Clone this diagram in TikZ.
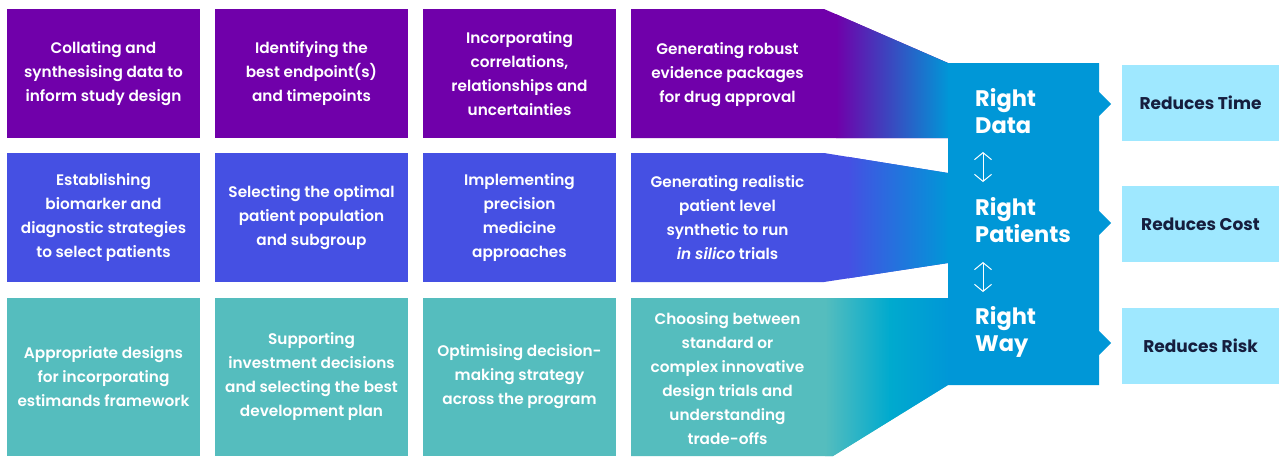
\documentclass[tikz,border=0pt]{standalone}
\usepackage{fontspec}
\setmainfont{Poppins}[UprightFont=* SemiBold, BoldFont=* Bold, ItalicFont=* SemiBold Italic]
\newfontfamily\hubfont{Poppins}[UprightFont=* Bold]
\usetikzlibrary{arrows.meta}
\definecolor{rowpurple}{RGB}{112,0,170}
\definecolor{rowviolet}{RGB}{69,80,227}
\definecolor{rowteal}{RGB}{85,189,190}
\definecolor{hubblue}{RGB}{0,151,215}
\definecolor{midcyan}{RGB}{0,170,206}
\definecolor{outcyan}{RGB}{159,232,255}
\definecolor{navy}{RGB}{22,30,62}
\begin{document}
\begin{tikzpicture}[x=1pt,y=-1pt,
  cell/.style={text=white, align=center, inner sep=0pt, minimum width=193pt,
    font=\fontsize{15.3}{24}\selectfont},
  shortcell/.style={cell, minimum height=129pt},
  tallcell/.style={cell, minimum height=158pt},
  celltext/.style={text=white, align=center, inner sep=0pt,
    font=\fontsize{15.3}{24}\selectfont},
  hubtext/.style={text=white, align=left, anchor=west, inner sep=0pt,
    font=\fontsize{22.5}{27}\selectfont\hubfont},
  outcome/.style={fill=outcyan, text=navy, inner sep=0pt, minimum width=157pt,
    minimum height=76pt, font=\fontsize{17}{20}\selectfont\bfseries},
  updown/.style={white, line width=1pt, {Straight Barb[length=7pt,width=17pt]}-{Straight Barb[length=7pt,width=17pt]}}]
\useasboundingbox (0,0) rectangle (1279,456);

% first three columns
\node[shortcell, fill=rowpurple] (a1) at (103.5,73.5) {Collating and\\synthesising data to\\inform study design};
\node[shortcell, fill=rowpurple] (a2) at (311.5,73.5) {Identifying the\\best endpoint(s)\\and timepoints};
\node[shortcell, fill=rowpurple] (a3) at (519.5,73.5) {Incorporating\\correlations,\\relationships and\\uncertainties};

\node[shortcell, fill=rowviolet] (b1) at (103.5,217.5) {Establishing\\biomarker and\\diagnostic strategies\\to select patients};
\node[shortcell, fill=rowviolet] (b2) at (311.5,217.5) {Selecting the optimal\\patient population\\and subgroup};
\node[shortcell, fill=rowviolet] (b3) at (519.5,217.5) {Implementing\\precision\\medicine\\approaches};

\node[tallcell, fill=rowteal] (c1) at (103.5,377) {Appropriate designs\\for incorporating\\estimands framework};
\node[tallcell, fill=rowteal] (c2) at (311.5,377) {Supporting\\investment decisions\\and selecting the best\\development plan};
\node[tallcell, fill=rowteal] (c3) at (519.5,377) {Optimising decision-\\making strategy\\across the program};

% fourth column: funnels that blend into the hub
\fill[rowpurple] (631,9) -- (824,9) -- (948,63) -- (948,138) -- (631,138) -- cycle;
\begin{scope}
  \clip (631,9) -- (824,9) -- (948,63) -- (948,138) -- (631,138) -- cycle;
  \shade[left color=rowpurple, right color=hubblue] (836,0) rectangle (949,150);
\end{scope}

\fill[rowviolet] (631,153) -- (824,153) -- (948,173) -- (948,263) -- (824,282) -- (631,282) -- cycle;
\begin{scope}
  \clip (631,153) -- (824,153) -- (948,173) -- (948,263) -- (824,282) -- (631,282) -- cycle;
  \shade[left color=rowviolet, right color=hubblue] (848,150) rectangle (949,290);
\end{scope}

\fill[rowteal] (631,298) -- (948,298) -- (948,385) -- (833,456) -- (631,456) -- cycle;
\begin{scope}
  \clip (631,298) -- (948,298) -- (948,385) -- (833,456) -- (631,456) -- cycle;
  \shade[left color=rowteal, right color=midcyan] (825,290) rectangle (890,460);
  \shade[left color=midcyan, right color=hubblue] (889.5,290) rectangle (949,460);
\end{scope}

\node[celltext] (a4) at (727.5,74.5) {Generating robust\\evidence packages\\for drug approval};
\node[celltext] (b4) at (727.5,217.5) {Generating realistic\\patient level\\synthetic to run\\\textit{in silico} trials};
\node[celltext] (c4) at (727.5,379) {Choosing between\\standard or\\complex innovative\\design trials and\\understanding\\trade-offs};

% hub block with pointers
\fill[hubblue] (948,63) -- (1099,63)
  -- (1099,92) -- (1111,104) -- (1099,116)
  -- (1099,211) -- (1111,223) -- (1099,235)
  -- (1099,331) -- (1111,343) -- (1099,355)
  -- (1099,385) -- (948,385) -- cycle;

\node[hubtext] (rdata) at (975,111.5) {Right\\Data};
\node[hubtext] (rpat) at (975,220.5) {Right\\Patients};
\node[hubtext] (rway) at (975,331.5) {Right\\Way};

\coordinate (u1) at (983,152);
\coordinate (l1) at (983,182);
\coordinate (u2) at (983,262);
\coordinate (l2) at (983,292);
\draw[updown] (u1) -- (l1);
\draw[updown] (u2) -- (l2);

% outcomes
\node[outcome] (time) at (1200.5,103) {Reduces Time};
\node[outcome] (cost) at (1200.5,224) {Reduces Cost};
\node[outcome] (risk) at (1200.5,346) {Reduces Risk};
\end{tikzpicture}
\end{document}
